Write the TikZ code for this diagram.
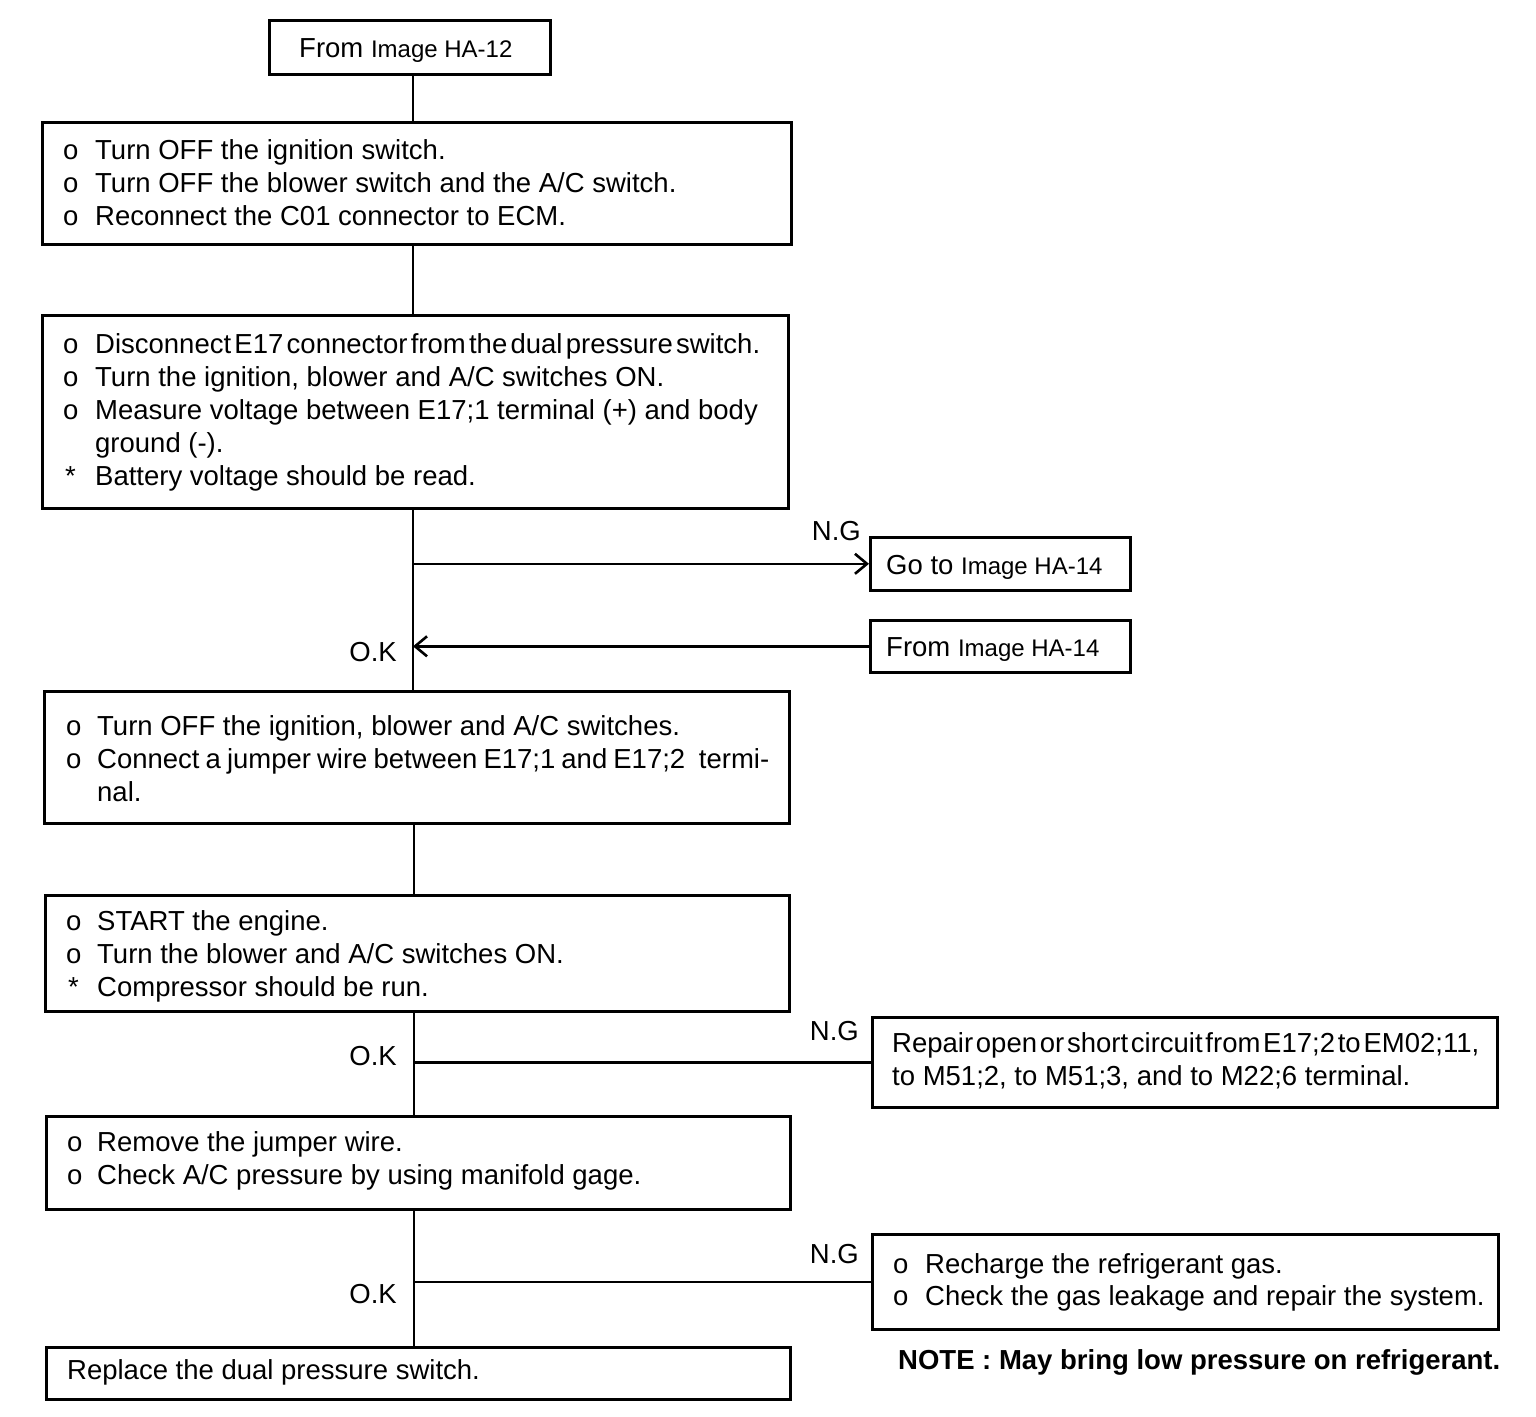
\documentclass[tikz,border=0pt]{standalone}
\usepackage{fontspec}
\usepackage{graphicx}
\setmainfont{Liberation Sans}
\usetikzlibrary{arrows.meta}
\begin{document}
\begin{tikzpicture}[x=1pt,y=-1pt,
  box/.style={draw,line width=2.6pt,anchor=north west,inner sep=0pt,minimum width=#1},
  txt/.style={anchor=base west,inner sep=0pt,font=\fontsize{27.5}{33}\selectfont},
  lbl/.style={anchor=base east,inner sep=0pt,font=\fontsize{27.5}{33}\selectfont},
  conn/.style={line width=2.6pt},
  arr/.style={line width=2.6pt,-{Straight Barb[length=12pt,width=20pt,line width=2.6pt]}},
  sm/.style={}]
\newcommand{\img}[1]{{\fontsize{24}{30}\selectfont #1}}
\useasboundingbox (0,0) rectangle (1536,1416);
\coordinate (tx) at (413,0);
\coordinate (ty) at (414,0);
% boxes
\node[box=281,minimum height=54] (b0) at (268,19) {};
\node[box=749,minimum height=122] (b1) at (41,121) {};
\node[box=746,minimum height=193] (b2) at (41,314) {};
\node[box=260,minimum height=53] (go) at (869,536) {};
\node[box=260,minimum height=52] (fr) at (869,619) {};
\node[box=745,minimum height=132] (b3) at (43,690) {};
\node[box=744,minimum height=116] (b4) at (44,894) {};
\node[box=625,minimum height=90] (rep) at (871,1016) {};
\node[box=744,minimum height=93] (b5) at (45,1115) {};
\node[box=626,minimum height=95] (rch) at (871,1233) {};
\node[box=744,minimum height=52] (b6) at (45,1346) {};
% texts
\node[txt] (t0) at (299,57) {From \img{Image HA-12}};
\node[txt] (t1ab) at (63,159) {o};
\node[txt] (t1a) at (95,159) {Turn OFF the ignition switch.};
\node[txt] (t1bb) at (63,192) {o};
\node[txt] (t1b) at (95,192) {Turn OFF the blower switch and the A/C switch.};
\node[txt] (t1cb) at (63,225) {o};
\node[txt] (t1c) at (95,225) {Reconnect the C01 connector to ECM.};
\node[txt] (t2ab) at (63,353) {o};
\node[txt] (t2a) at (95,353) {\spaceskip=0.12em Disconnect E17 connector from the dual pressure switch.};
\node[txt] (t2bb) at (63,386) {o};
\node[txt] (t2b) at (95,386) {Turn the ignition, blower and A/C switches ON.};
\node[txt] (t2cb) at (63,419) {o};
\node[txt] (t2c) at (95,419) {Measure voltage between E17;1 terminal (+) and body};
\node[txt] (t2d) at (95,452) {ground (-).};
\node[txt] (t2eb) at (65,485) {*};
\node[txt] (t2e) at (95,485) {Battery voltage should be read.};
\node[txt] (tgo) at (886,574) {Go to \img{Image HA-14}};
\node[txt] (tfr) at (886,656) {From \img{Image HA-14}};
\node[lbl] (ng1) at (861,540) {N.G};
\node[lbl] (ok1) at (397,661) {O.K};
\node[txt] (t3ab) at (66,735) {o};
\node[txt] (t3a) at (97,735) {Turn OFF the ignition, blower and A/C switches.};
\node[txt] (t3bb) at (66,768) {o};
\node[txt] (t3b) at (97,768) {\spaceskip=0.22em Connect a jumper wire between E17;1 and E17;2\hspace{0.5em}termi-};
\node[txt] (t3c) at (97,801) {nal.};
\node[txt] (t4ab) at (66,930) {o};
\node[txt] (t4a) at (97,930) {START the engine.};
\node[txt] (t4bb) at (66,963) {o};
\node[txt] (t4b) at (97,963) {Turn the blower and A/C switches ON.};
\node[txt] (t4cb) at (68,996) {*};
\node[txt] (t4c) at (97,996) {Compressor should be run.};
\node[lbl] (ng2) at (859,1040) {N.G};
\node[lbl] (ok2) at (397,1065) {O.K};
\node[txt] (tra) at (892,1052) {\spaceskip=0.1em Repair open or short circuit from E17;2 to EM02;11,};
\node[txt] (trb) at (892,1085) {to M51;2, to M51;3, and to M22;6 terminal.};
\node[txt] (t5ab) at (67,1151) {o};
\node[txt] (t5a) at (97,1151) {Remove the jumper wire.};
\node[txt] (t5bb) at (67,1184) {o};
\node[txt] (t5b) at (97,1184) {Check A/C pressure by using manifold gage.};
\node[lbl] (ng3) at (859,1263) {N.G};
\node[lbl] (ok3) at (397,1303) {O.K};
\node[txt] (tcab) at (893,1273) {o};
\node[txt] (tca) at (925,1273) {Recharge the refrigerant gas.};
\node[txt] (tcbb) at (893,1305) {o};
\node[txt] (tcb) at (925,1305) {Check the gas leakage and repair the system.};
\node[txt] (note) at (898,1369) {\bfseries NOTE : May bring low pressure on refrigerant.};
\node[txt] (t6) at (67,1379) {Replace the dual pressure switch.};
% connectors
\draw[conn] (b0.south -| tx) -- (b1.north -| tx);
\draw[conn] (b1.south -| tx) -- (b2.north -| tx);
\draw[conn] (b2.south -| tx) -- (b3.north -| tx);
\draw[arr] (go.west -| tx) -- (go.west);
\draw[arr] (fr.west) -- (fr.west -| tx);
\draw[conn] (b3.south -| ty) -- (b4.north -| ty);
\draw[conn] (b4.south -| ty) -- (b5.north -| ty);
\draw[conn] (rep.west -| ty) -- (rep.west);
\draw[conn] (b5.south -| ty) -- (b6.north -| ty);
\draw[conn] (rch.west -| ty) -- (rch.west);
\end{tikzpicture}
\end{document}
